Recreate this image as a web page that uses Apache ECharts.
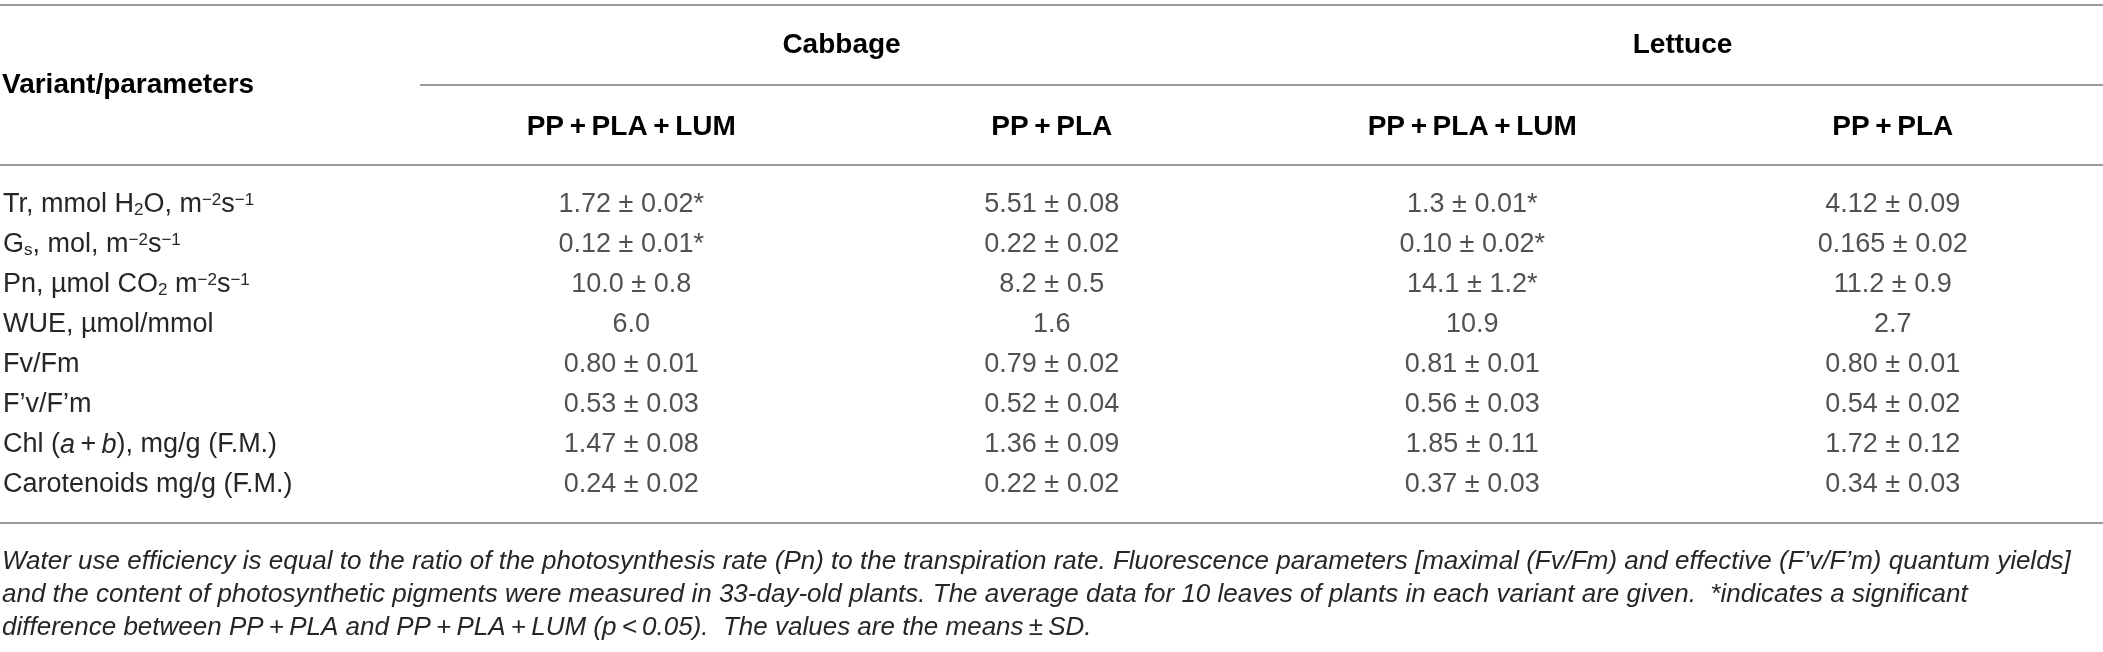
<!DOCTYPE html>
<html>
<head>
<meta charset="utf-8">
<script src="https://cdn.jsdelivr.net/npm/echarts@6/dist/echarts.min.js"></script>
<style>
html,body{margin:0;padding:0;background:#fff;}
#c{width:2103px;height:652px;}
</style>
</head>
<body>
<div id="c"></div>
<script>
// ---- table content ----
const crops = ['Cabbage', 'Lettuce'];
const variants = ['PP\u2009+\u2009PLA\u2009+\u2009LUM', 'PP\u2009+\u2009PLA', 'PP\u2009+\u2009PLA\u2009+\u2009LUM', 'PP\u2009+\u2009PLA'];
const parameters = [
  'Tr, mmol H{sub|2}O, m{sup|\u22122}s{sup|\u22121}',
  'G{sub|s}, mol, m{sup|\u22122}s{sup|\u22121}',
  'Pn, \u00b5mol CO{sub|2} m{sup|\u22122}s{sup|\u22121}',
  'WUE, \u00b5mol/mmol',
  'Fv/Fm',
  'F\u2019v/F\u2019m',
  'Chl ({it|a}\u2009+\u2009{it|b}), mg/g (F.M.)',
  'Carotenoids mg/g (F.M.)'
];
const cabbageLum = ['1.72 \u00b1 0.02*', '0.12 \u00b1 0.01*', '10.0 \u00b1 0.8', '6.0', '0.80 \u00b1 0.01', '0.53 \u00b1 0.03', '1.47 \u00b1 0.08', '0.24 \u00b1 0.02'];
const cabbagePla = ['5.51 \u00b1 0.08', '0.22 \u00b1 0.02', '8.2 \u00b1 0.5', '1.6', '0.79 \u00b1 0.02', '0.52 \u00b1 0.04', '1.36 \u00b1 0.09', '0.22 \u00b1 0.02'];
const lettuceLum = ['1.3 \u00b1 0.01*', '0.10 \u00b1 0.02*', '14.1 \u00b1 1.2*', '10.9', '0.81 \u00b1 0.01', '0.56 \u00b1 0.03', '1.85 \u00b1 0.11', '0.37 \u00b1 0.03'];
const lettucePla = ['4.12 \u00b1 0.09', '0.165 \u00b1 0.02', '11.2 \u00b1 0.9', '2.7', '0.80 \u00b1 0.01', '0.54 \u00b1 0.02', '1.72 \u00b1 0.12', '0.34 \u00b1 0.03'];
const stubTitle = 'Variant/parameters';
const footnote = [
  'Water use efficiency is equal to the ratio of the photosynthesis rate (Pn) to the transpiration rate. Fluorescence parameters [maximal (Fv/Fm) and effective (F\u2019v/F\u2019m) quantum yields]',
  'and the content of photosynthetic pigments were measured in 33-day-old plants. The average data for 10 leaves of plants in each variant are given.  *indicates a significant',
  'difference between PP\u2009+\u2009PLA and PP\u2009+\u2009PLA\u2009+\u2009LUM (p\u2009<\u20090.05).  The values are the means\u2009\u00b1\u2009SD.'
];

// ---- rendering ----
const FONT = '"Liberation Sans", Arial, Helvetica, sans-serif';
const TXT = '#262626';
const RULE = '#9b9b9b';
const W = 2103;
const BODY = 27;
const HEAD = 28;

const columns = [cabbageLum, cabbagePla, lettuceLum, lettucePla];
const series = columns.map((col, ci) => ({
  type: 'scatter',
  xAxisIndex: 0,
  yAxisIndex: 0,
  symbolSize: 0,
  silent: true,
  data: col.map((v, ri) => ({ value: [ci, ri], label: { formatter: v } })),
  label: {
    show: true,
    position: 'inside',
    color: TXT,
    fontFamily: FONT,
    fontSize: BODY,
    fontWeight: 'normal'
  }
}));

const chart = echarts.init(document.getElementById('c'), null, { renderer: 'canvas' });

function ruleLine(x1, y, x2) {
  return { type: 'line', silent: true, shape: { x1: x1, y1: y, x2: x2, y2: y }, style: { stroke: RULE, lineWidth: 2 } };
}

chart.setOption({
  backgroundColor: '#fff',
  animation: false,
  grid: { left: 420, right: 0, top: 185, bottom: 147 },
  xAxis: [
    {
      type: 'category', data: variants, position: 'top',
      axisLine: { show: false }, axisTick: { show: false }, splitLine: { show: false },
      axisLabel: { color: '#000', fontFamily: FONT, fontSize: HEAD, fontWeight: 'bold', margin: 58, verticalAlign: 'middle' }
    },
    {
      type: 'category', data: crops, position: 'top',
      axisLine: { show: false }, axisTick: { show: false }, splitLine: { show: false },
      axisLabel: { color: '#000', fontFamily: FONT, fontSize: HEAD, fontWeight: 'bold', margin: 140, verticalAlign: 'middle' }
    }
  ],
  yAxis: {
    type: 'category', data: parameters, inverse: true,
    axisLine: { show: false }, axisTick: { show: false }, splitLine: { show: false },
    axisLabel: {
      color: TXT, fontFamily: FONT, fontSize: BODY, align: 'left', margin: 418,
      formatter: v => v,
      rich: {
        sub: { fontSize: 17, fontFamily: FONT, color: TXT, verticalAlign: 'bottom' },
        sup: { fontSize: 17, fontFamily: FONT, color: TXT, verticalAlign: 'top' },
        it: { fontSize: BODY, fontFamily: FONT, color: TXT, fontStyle: 'italic' }
      }
    }
  },
  series: series,
  graphic: [
    ruleLine(0, 5, W),
    ruleLine(420, 85, W),
    ruleLine(0, 165, W),
    ruleLine(0, 523, W),
    { type: 'text', silent: true, left: 2, top: 71, style: { text: stubTitle, fill: '#000', font: 'bold ' + HEAD + 'px ' + FONT } }
  ].concat(footnote.map((t, i) => ({
    type: 'text', silent: true, left: 2, top: 549 + i * 33,
    style: { text: t, fill: TXT, font: 'italic 26px ' + FONT }
  })))
});
</script>
</body>
</html>
